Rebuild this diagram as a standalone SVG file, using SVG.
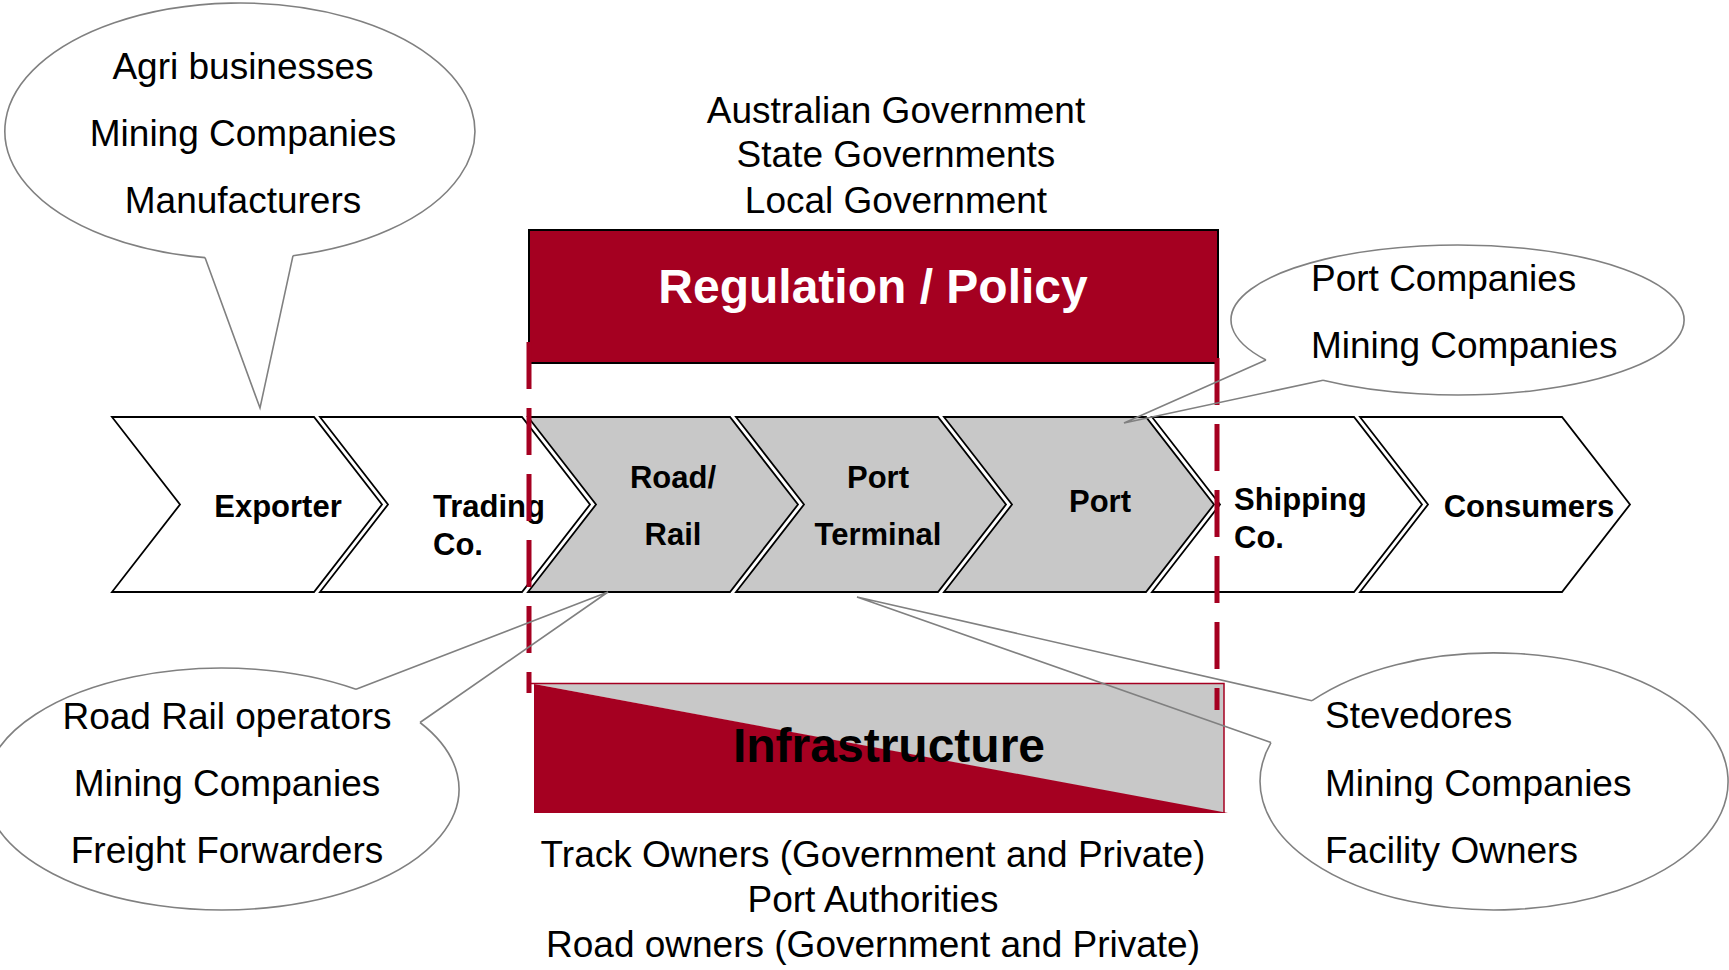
<svg xmlns="http://www.w3.org/2000/svg" xmlns:xlink="http://www.w3.org/1999/xlink" width="1729" height="970" viewBox="0 0 1729 970">
  <style>
    .chev { stroke: #000; stroke-width: 1.8; }
    .plain { fill: #fff; }
    .shaded { fill: #c8c8c8; }
    .lbl { font-family: "Liberation Sans", Arial, Helvetica, sans-serif; font-weight: bold; font-size: 31px; fill: #000; }
    .txt { font-family: "Liberation Sans", Arial, Helvetica, sans-serif; font-size: 37px; fill: #000; }
    .head { font-family: "Liberation Sans", Arial, Helvetica, sans-serif; font-weight: bold; font-size: 48px; }
    .bubble { fill: none; stroke: #808080; stroke-width: 1.6; }
    .tail { fill: none; stroke: #808080; stroke-width: 1.6; stroke-linejoin: miter; }
    .dash { stroke: #a50021; stroke-width: 5; stroke-dasharray: 47 19; fill: none; }
    .mid { text-anchor: middle; }
  </style>
  <defs>
    <!-- one step of the value chain: flat-topped chevron, notch on the left, point on the right -->
    <path id="chevron" d="M0,417 H202 L270,504.5 L202,592 H0 L68,504.5 Z"/>
  </defs>

  <rect width="1729" height="970" fill="#fff"/>

  <!-- value chain -->
  <g id="exporter">
    <use xlink:href="#chevron" href="#chevron" class="chev plain" transform="translate(112,0)"/>
    <text class="lbl mid" x="278" y="517">Exporter</text>
  </g>
  <g id="trading-co">
    <use xlink:href="#chevron" href="#chevron" class="chev plain" transform="translate(320,0)"/>
    <text class="lbl" x="433" y="517">Trading</text>
    <text class="lbl" x="433" y="555">Co.</text>
  </g>
  <g id="road-rail">
    <use xlink:href="#chevron" href="#chevron" class="chev shaded" transform="translate(528,0)"/>
    <text class="lbl mid" x="673" y="488">Road/</text>
    <text class="lbl mid" x="673" y="545">Rail</text>
  </g>
  <g id="port-terminal">
    <use xlink:href="#chevron" href="#chevron" class="chev shaded" transform="translate(736,0)"/>
    <text class="lbl mid" x="878" y="488">Port</text>
    <text class="lbl mid" x="878" y="545">Terminal</text>
  </g>
  <g id="port">
    <use xlink:href="#chevron" href="#chevron" class="chev shaded" transform="translate(944,0)"/>
    <text class="lbl mid" x="1100" y="512">Port</text>
  </g>
  <g id="shipping-co">
    <use xlink:href="#chevron" href="#chevron" class="chev plain" transform="translate(1152,0)"/>
    <text class="lbl" x="1234" y="510">Shipping</text>
    <text class="lbl" x="1234" y="548">Co.</text>
  </g>
  <g id="consumers">
    <use xlink:href="#chevron" href="#chevron" class="chev plain" transform="translate(1360,0)"/>
    <text class="lbl mid" x="1529" y="517">Consumers</text>
  </g>

  <!-- government layer -->
  <g id="government">
    <text class="txt mid" x="896" y="123">Australian Government</text>
    <text class="txt mid" x="896" y="167">State Governments</text>
    <text class="txt mid" x="896" y="213">Local Government</text>
  </g>
  <g id="regulation-policy">
    <rect x="529" y="230" width="689" height="133" fill="#a50021" stroke="#000" stroke-width="2"/>
    <text class="head mid" x="873" y="303" fill="#fff">Regulation / Policy</text>
  </g>

  <!-- infrastructure layer -->
  <g id="infrastructure">
    <polygon points="534,684 1224,684 1224,813" fill="#c8c8c8"/>
    <polygon points="534,684 534,813 1228,813" fill="#a50021"/>
    <path d="M529,683.5 H1224 V813" fill="none" stroke="#a50021" stroke-width="1.5"/>
    <text class="head mid" x="889" y="762" fill="#000">Infrastructure</text>
  </g>
  <g id="infrastructure-owners">
    <text class="txt mid" x="873" y="867">Track Owners (Government and Private)</text>
    <text class="txt mid" x="873" y="912">Port Authorities</text>
    <text class="txt mid" x="873" y="957">Road owners (Government and Private)</text>
  </g>

  <!-- scope markers -->
  <g id="scope">
    <line class="dash" x1="529" y1="342" x2="529" y2="693"/>
    <line class="dash" x1="1217" y1="358" x2="1217" y2="710"/>
  </g>

  <!-- callout bubbles -->
  <g id="producers">
    <path class="bubble" d="M205,257.6 A235,128 0 1 1 293,255.7"/>
    <text class="txt mid" x="243" y="79">Agri businesses</text>
    <text class="txt mid" x="243" y="146">Mining Companies</text>
    <text class="txt mid" x="243" y="213">Manufacturers</text>
  </g>
  <g id="port-operators">
    <path class="bubble" d="M1266,360 A226.5,75 0 1 1 1323,380.3"/>
    <text class="txt" x="1311" y="291">Port Companies</text>
    <text class="txt" x="1311" y="358">Mining Companies</text>
  </g>
  <g id="transport-operators">
    <path class="bubble" d="M356,689.2 A237,121 0 1 0 420,722.5"/>
    <text class="txt mid" x="227" y="729">Road Rail operators</text>
    <text class="txt mid" x="227" y="796">Mining Companies</text>
    <text class="txt mid" x="227" y="863">Freight Forwarders</text>
  </g>
  <g id="terminal-operators">
    <path class="bubble" d="M1312,700.7 A234,128.5 0 1 1 1271,742.6"/>
    <text class="txt" x="1325" y="728">Stevedores</text>
    <text class="txt" x="1325" y="796">Mining Companies</text>
    <text class="txt" x="1325" y="863">Facility Owners</text>
  </g>

  <!-- callout pointers -->
  <g id="connectors">
    <polyline class="tail" points="205,257.6 260,408 293,255.7"/>
    <polyline class="tail" points="1266,360 1124,423 1323,380.3"/>
    <polyline class="tail" points="356,689.2 608,592 420,722.5"/>
    <polyline class="tail" points="1312,700.7 857,597 1271,742.6"/>
  </g>
</svg>
